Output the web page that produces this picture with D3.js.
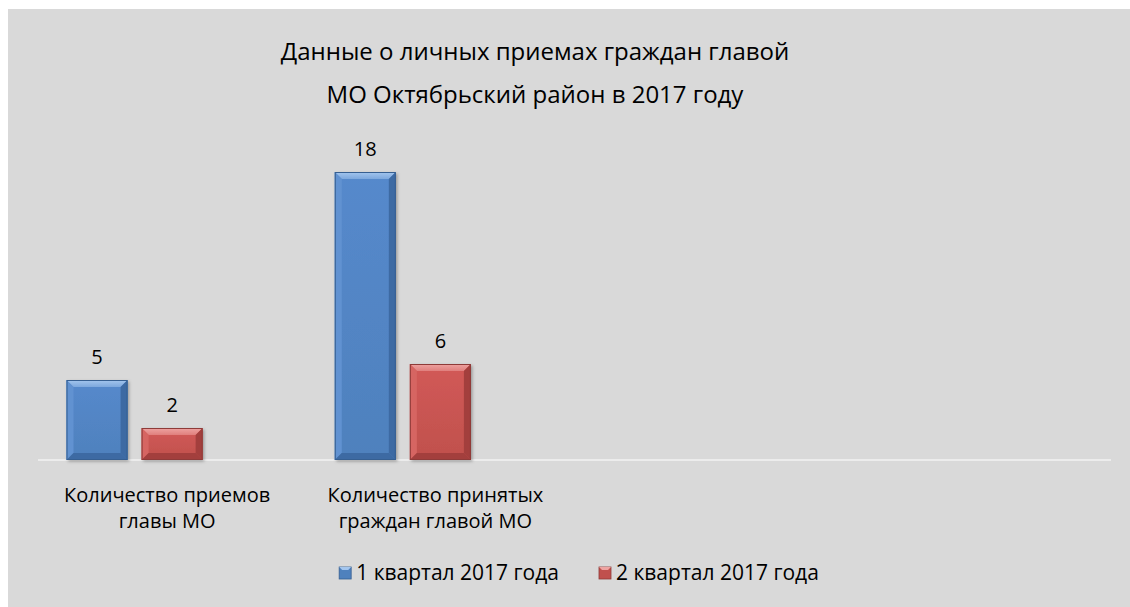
<!DOCTYPE html>
<html>
<head>
<meta charset="utf-8">
<script src="https://cdn.jsdelivr.net/npm/d3@7"></script>
<style>
	body { margin: 0; background: #fff; }
	text { font-family: "Open Sans", "Noto Sans", sans-serif; fill: #000; }
</style>
</head>
<body>
<div id="chart"></div>
<script>
// chart data
const titleLines = ["Данные о личных приемах граждан главой", "МО Октябрьский район в 2017 году"];
// two empty category slots and one unnamed series slot, as in the original sheet
const categories = ["Количество приемов\nглавы МО", "Количество принятых\nграждан главой МО", "", ""];
const seriesNames = ["1 квартал 2017 года", "2 квартал 2017 года", ""];
const q1Values = [5, 18, null, null];
const q2Values = [2, 6, null, null];
const q3Values = [null, null, null, null];

const width = 1130;
const height = 607;

const palette = [
	{ base: "#4f81bd", mid: "#5589cc", light: "#a4c6ee", dark: "#3d6aa3", line: "#365f91" },
	{ base: "#c0504d", mid: "#d25a57", light: "#eea4a2", dark: "#a33f3d", line: "#8e3b39" },
	{ base: "#9bbb59", mid: "#9bbb59", light: "#cde0a8", dark: "#7d9a43", line: "#71893f" }
];

const svg = d3.select("#chart")
	.append("svg")
	.attr("width", width)
	.attr("height", height);

// grey chart area
svg.append("rect")
	.attr("x", 8)
	.attr("y", 9)
	.attr("width", width - 8)
	.attr("height", height - 9)
	.attr("fill", "#d9d9d9");

const defs = svg.append("defs");
const shadow = defs.append("filter")
	.attr("id", "shadow")
	.attr("x", "-20%").attr("y", "-20%")
	.attr("width", "140%").attr("height", "140%");
shadow.append("feDropShadow")
	.attr("dx", 1.5).attr("dy", 1.5)
	.attr("stdDeviation", 1.5)
	.attr("flood-color", "#000")
	.attr("flood-opacity", 0.3);

palette.forEach((c, i) => {
	const g = defs.append("linearGradient")
		.attr("id", "body" + i)
		.attr("x1", 0).attr("y1", 0).attr("x2", 0).attr("y2", 1);
	g.append("stop").attr("offset", "0%").attr("stop-color", c.mid);
	g.append("stop").attr("offset", "100%").attr("stop-color", c.base);
	const t = defs.append("linearGradient")
		.attr("id", "top" + i)
		.attr("x1", 0).attr("y1", 0).attr("x2", 0).attr("y2", 1);
	t.append("stop").attr("offset", "0%").attr("stop-color", c.light);
	t.append("stop").attr("offset", "100%").attr("stop-color", d3.interpolateRgb(c.light, c.mid)(0.5));
});

// title
svg.append("text")
	.attr("class", "title")
	.attr("text-anchor", "middle")
	.attr("font-size", 24)
	.selectAll("tspan")
	.data(titleLines)
	.join("tspan")
	.attr("x", 535)
	.attr("y", (d, i) => 60 + i * 43)
	.text(d => d);

const xScale = d3.scaleBand()
	.domain(d3.range(categories.length))
	.range([38, 1111])
	.padding(0);

const xInner = d3.scaleBand()
	.domain(d3.range(seriesNames.length))
	.range([0, xScale.bandwidth()])
	.paddingInner(0.187)
	.paddingOuter(0.38);

const yScale = d3.scaleLinear()
	.domain([0, 20])
	.range([460, 140]);

// category axis line
svg.append("line")
	.attr("x1", xScale.range()[0])
	.attr("x2", xScale.range()[1])
	.attr("y1", yScale(0))
	.attr("y2", yScale(0))
	.attr("stroke", "#ececec")
	.attr("stroke-width", 2);

const allSeries = [q1Values, q2Values, q3Values];
const barData = [];
allSeries.forEach((values, s) => {
	values.forEach((v, c) => {
		if (v != null) barData.push({ s, c, v });
	});
});

const bev = 7;
const bars = svg.append("g")
	.attr("class", "bars")
	.selectAll("g.bar")
	.data(barData)
	.join("g")
	.attr("class", "bar")
	.attr("transform", d => `translate(${xScale(d.c) + xInner(d.s)},${yScale(d.v)})`);

bars.each(function (d) {
	const g = d3.select(this);
	const w = xInner.bandwidth();
	const h = yScale(0) - yScale(d.v);
	const c = palette[d.s];
	g.append("rect")
		.attr("width", w)
		.attr("height", h)
		.attr("fill", `url(#body${d.s})`)
		.attr("filter", "url(#shadow)");
	// top bevel
	g.append("polygon")
		.attr("points", [[0, 0], [w, 0], [w - bev, bev], [bev, bev]].join(" "))
		.attr("fill", `url(#top${d.s})`);
	// left bevel
	g.append("polygon")
		.attr("points", [[0, 0], [bev, bev], [bev, h - bev], [0, h]].join(" "))
		.attr("fill", d3.interpolateRgb(c.mid, c.light)(0.15));
	// right bevel
	g.append("polygon")
		.attr("points", [[w, 0], [w, h], [w - bev, h - bev], [w - bev, bev]].join(" "))
		.attr("fill", c.dark);
	// bottom bevel
	g.append("polygon")
		.attr("points", [[0, h], [bev, h - bev], [w - bev, h - bev], [w, h]].join(" "))
		.attr("fill", c.dark);
	g.append("rect")
		.attr("x", 0.5).attr("y", 0.5)
		.attr("width", w - 1)
		.attr("height", h - 1)
		.attr("fill", "none")
		.attr("stroke", c.line)
		.attr("stroke-width", 1);
});

// value labels
svg.append("g")
	.selectAll("text")
	.data(barData)
	.join("text")
	.attr("text-anchor", "middle")
	.attr("font-size", 20)
	.attr("x", d => xScale(d.c) + xInner(d.s) + xInner.bandwidth() / 2)
	.attr("y", d => yScale(d.v) - 16)
	.text(d => d.v);

// category labels
svg.append("g")
	.selectAll("text")
	.data(categories.map((label, i) => ({ label, i })).filter(d => d.label))
	.join("text")
	.attr("text-anchor", "middle")
	.attr("font-size", 20)
	.each(function (d) {
		d3.select(this).selectAll("tspan")
			.data(d.label.split("\n"))
			.join("tspan")
			.attr("x", xScale(d.i) + xScale.bandwidth() / 2 - 5)
			.attr("y", (l, j) => 502 + j * 26)
			.text(l => l);
	});

// legend
const legendItems = seriesNames.map((name, i) => ({ name, i })).filter(d => d.name);
const legend = svg.append("g").attr("class", "legend");
const items = legend.selectAll("g")
	.data(legendItems)
	.join("g");
items.append("rect")
	.attr("y", -12)
	.attr("width", 12)
	.attr("height", 12)
	.attr("fill", d => palette[d.i].base)
	.attr("stroke", d => palette[d.i].line)
	.attr("stroke-width", 0.8);
items.append("polygon")
	.attr("points", "0,-12 12,-12 9,-9 3,-9")
	.attr("fill", d => palette[d.i].light);
items.append("text")
	.attr("x", 17)
	.attr("y", 1)
	.attr("font-size", 21)
	.text(d => d.name);

let lx = 0;
items.each(function () {
	const g = d3.select(this);
	g.attr("transform", `translate(${lx},579)`);
	lx += 17 + g.select("text").node().getComputedTextLength() + 40;
});
legend.attr("transform", `translate(${579 - (lx - 40) / 2},0)`);
</script>
</body>
</html>
